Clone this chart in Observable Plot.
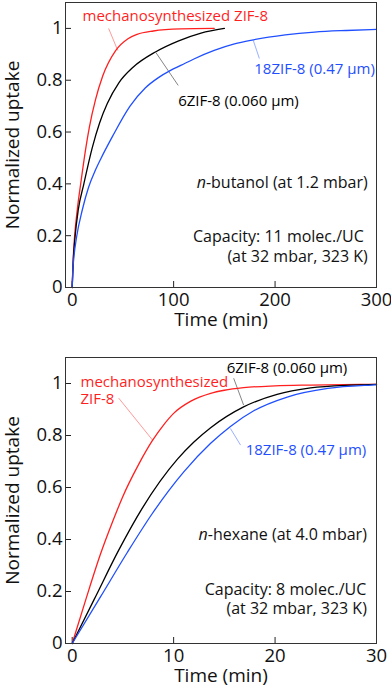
<!DOCTYPE html>
<html><head><meta charset="utf-8">
<script src="https://cdn.jsdelivr.net/npm/d3@7"></script>
<script src="https://cdn.jsdelivr.net/npm/@observablehq/plot@0.6"></script>
<style>body{margin:0;background:#fff} svg{display:block}</style>
</head><body><div id="chart"></div>
<script>
const seriesNames = ["mechanosynthesized ZIF-8", "6ZIF-8 (0.060 µm)", "18ZIF-8 (0.47 µm)"];
const seriesColors = ["#ff1f1f", "#000000", "#1f4fff"];
const leaderColors = ["#ff8080", "#666666", "#7f9cff"];

// ---- data: n-butanol panel (time in min, normalized uptake) ----
const butMechT = [0, 1, 2.3, 5, 8.9, 13.3, 17, 23, 30, 43, 55, 64, 80, 107, 140];
const butMechV = [0, 0.11, 0.194, 0.30, 0.415, 0.535, 0.62, 0.725, 0.815, 0.915, 0.96, 0.977, 0.99, 0.998, 1.0];
const but6T = [0, 1, 2.8, 6, 11.5, 19.8, 27, 34.6, 46, 60, 82.5, 105, 127, 150];
const but6V = [0, 0.10, 0.194, 0.30, 0.40, 0.54, 0.635, 0.71, 0.79, 0.85, 0.91, 0.952, 0.982, 1.0];
const but18T = [0, 0.5, 1.5, 4.3, 10, 16, 22, 28, 40, 57, 72, 85, 97, 107, 120, 140, 160, 176, 210, 239, 270, 300];
const but18V = [0, 0.06, 0.11, 0.194, 0.30, 0.385, 0.445, 0.495, 0.585, 0.70, 0.77, 0.81, 0.838, 0.857, 0.882, 0.915, 0.94, 0.954, 0.975, 0.986, 0.992, 0.996];

// ---- data: n-hexane panel ----
const hexMechT = [0, 1.31, 2.8, 4.0, 4.93, 6.5, 7.9, 9, 10, 11.7, 13.65, 15, 16.9, 20, 23.5, 30];
const hexMechV = [0, 0.165, 0.345, 0.47, 0.56, 0.685, 0.78, 0.84, 0.885, 0.932, 0.962, 0.974, 0.984, 0.991, 0.994, 0.997];
const hex6T = [0, 2.3, 4.6, 6.9, 10.4, 12, 13.65, 16.9, 20.2, 23.5, 27.5, 30];
const hex6V = [0, 0.18, 0.36, 0.52, 0.71, 0.775, 0.83, 0.91, 0.958, 0.983, 0.994, 0.997];
const hex18T = [0, 2.8, 5.43, 7.9, 11, 13.65, 15.6, 17.9, 21.2, 25.2, 29.5, 30];
const hex18V = [0, 0.18, 0.35, 0.50, 0.66, 0.77, 0.835, 0.895, 0.948, 0.981, 0.994, 0.995];

const yTicks = [0, 0.2, 0.4, 0.6, 0.8, 1];
const butXTicks = [0, 100, 200, 300];
const hexXTicks = [0, 10, 20, 30];

function rows(ts, vs, series) { return ts.map((t, i) => ({t, v: vs[i], series})); }

const butData = [
  ...rows(butMechT, butMechV, seriesNames[0]),
  ...rows(but6T, but6V, seriesNames[1]),
  ...rows(but18T, but18V, seriesNames[2])
];
const hexData = [
  ...rows(hexMechT, hexMechV, seriesNames[0]),
  ...rows(hex6T, hex6V, seriesNames[1]),
  ...rows(hex18T, hex18V, seriesNames[2])
];

const W = 391, ML = 65, MR = 15;
const FONT = "'Open Sans', Lato, sans-serif";

function panel({data, xDomain, xTicks, height, marginTop, marginBottom, labels, leaders, notes}) {
  const plotW = W - ML - MR;
  const plotH = height - marginTop - marginBottom;
  return Plot.plot({
    width: W, height, marginLeft: ML, marginRight: MR, marginTop, marginBottom,
    style: {fontFamily: FONT, background: "#fff", color: "#111"},
    x: {domain: xDomain},
    y: {domain: [0, 1.1]},
    color: {domain: seriesNames, range: seriesColors},
    marks: [
      Plot.axisX({ticks: xTicks, tickSize: 0, tickPadding: 5, fontSize: 18.5, label: null, tickFormat: d => String(d)}),
      Plot.axisY({ticks: yTicks, tickSize: 0, tickPadding: 3, fontSize: 18.5, label: null, tickFormat: d => String(d)}),
      Plot.tickY(yTicks, {y: d => d, insetRight: plotW - 6, stroke: "#222"}),
      Plot.tickX(xTicks, {x: d => d, insetTop: plotH - 6, stroke: "#222"}),
      Plot.link(leaders, {x1: "x1", y1: "y1", x2: "x2", y2: "y2", stroke: d => leaderColors[d.s], strokeWidth: 0.8}),
      Plot.line(data, {x: "t", y: "v", z: "series", stroke: "series", strokeWidth: 1.3, curve: "monotone-x"}),
      Plot.text(labels, {x: "x", y: "y", text: d => d.text, fill: d => seriesColors[d.s], textAnchor: "start", fontSize: 15, lineHeight: 1.1}),
      Plot.text(notes, {x: "x", y: "y", text: "text", textAnchor: "end", fontSize: 16, fill: "#111"}),
      Plot.text(["Normalized uptake"], {frameAnchor: "left", textAnchor: "middle", lineAnchor: "middle", rotate: -90, dx: -53, fontSize: 19, fill: "#111"}),
      Plot.text(["Time (min)"], {frameAnchor: "bottom", textAnchor: "middle", lineAnchor: "middle", dy: 32, fontSize: 19, fill: "#111"}),
      Plot.frame({stroke: "#333"})
    ]
  });
}

const topPanel = panel({
  data: butData, xDomain: [-6.6, 300], xTicks: butXTicks,
  height: 335, marginTop: 2, marginBottom: 48,
  labels: [
    {x: 10.2, y: 1.05, text: seriesNames[0], s: 0},
    {x: 104.5, y: 0.722, text: seriesNames[1], s: 1},
    {x: 179.5, y: 0.846, text: seriesNames[2], s: 2}
  ],
  leaders: [
    {x1: 35.9, y1: 1.0, x2: 44.9, y2: 0.915, s: 0},
    {x1: 82.5, y1: 0.907, x2: 104.5, y2: 0.78, s: 1},
    {x1: 178.5, y1: 0.954, x2: 184.5, y2: 0.884, s: 2}
  ],
  notes: [
    {x: 291.4, y: 0.405, text: "n-butanol (at 1.2 mbar)"},
    {x: 287.5, y: 0.197, text: "Capacity: 11 molec./UC"},
    {x: 291.4, y: 0.12, text: "(at 32 mbar, 323 K)"}
  ]
});

const bottomPanel = panel({
  data: hexData, xDomain: [-0.66, 30], xTicks: hexXTicks,
  height: 358, marginTop: 22, marginBottom: 50,
  labels: [
    {x: 0.82, y: 0.974, text: "mechanosynthesized\nZIF-8", s: 0},
    {x: 15.23, y: 1.059, text: seriesNames[1], s: 1},
    {x: 17.1, y: 0.744, text: seriesNames[2], s: 2}
  ],
  leaders: [
    {x1: 4.58, y1: 0.944, x2: 7.93, y2: 0.782, s: 0},
    {x1: 15.92, y1: 1.02, x2: 16.9, y2: 0.917, s: 1},
    {x1: 15.6, y1: 0.827, x2: 16.6, y2: 0.763, s: 2}
  ],
  notes: [
    {x: 29.05, y: 0.417, text: "n-hexane (at 4.0 mbar)"},
    {x: 29.0, y: 0.205, text: "Capacity: 8 molec./UC"},
    {x: 29.05, y: 0.132, text: "(at 32 mbar, 323 K)"}
  ]
});

const chart = document.getElementById("chart");
chart.append(topPanel, bottomPanel);

// italic "n" in the solvent notes
for (const el of chart.querySelectorAll("text")) {
  const s = el.textContent;
  if (el.children.length === 0 && /^n-(butanol|hexane)/.test(s)) {
    el.textContent = "";
    const ns = "http://www.w3.org/2000/svg";
    const it = document.createElementNS(ns, "tspan");
    it.setAttribute("font-style", "italic");
    it.textContent = "n";
    el.append(it, document.createTextNode(s.slice(1)));
  }
}
</script>
</body></html>
